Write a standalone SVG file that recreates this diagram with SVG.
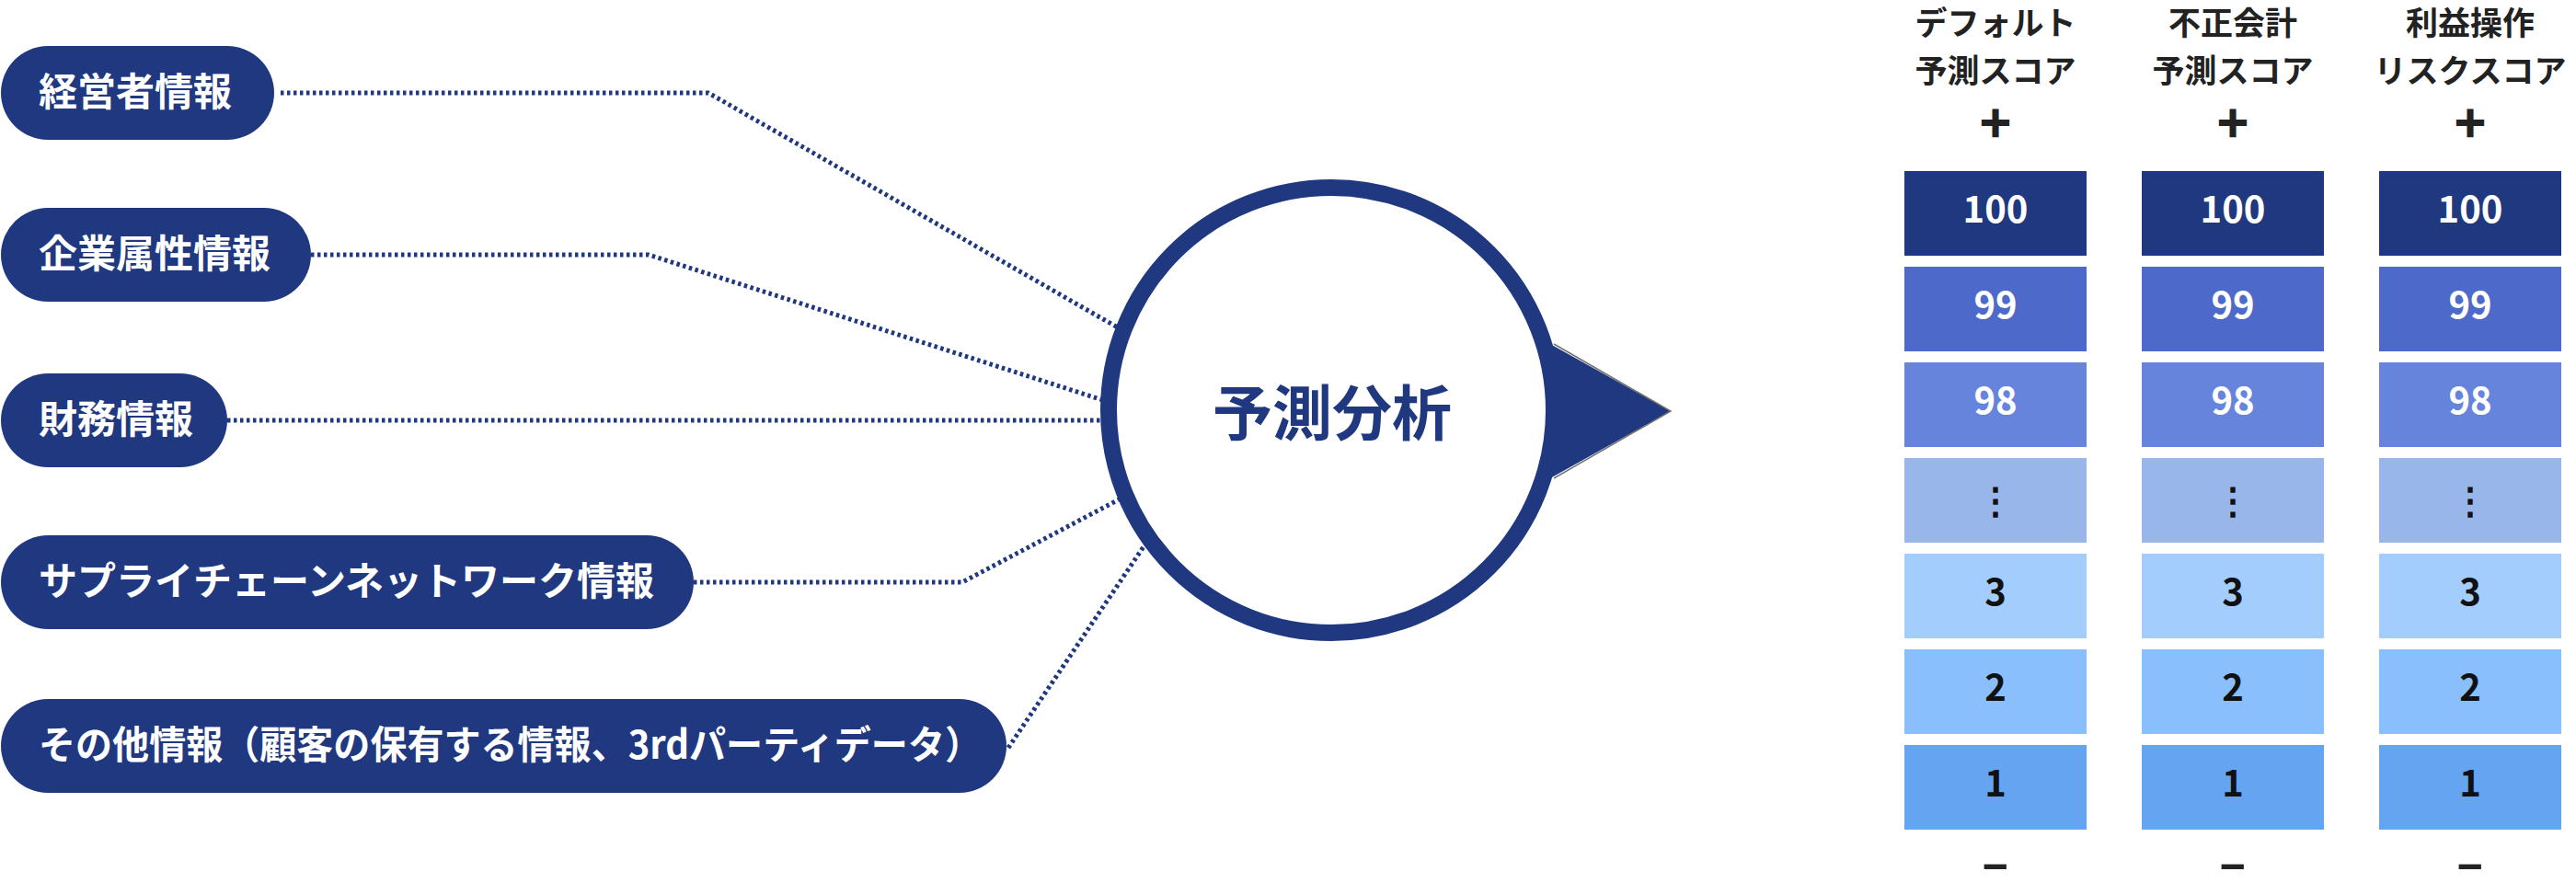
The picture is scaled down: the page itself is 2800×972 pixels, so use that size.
<svg xmlns="http://www.w3.org/2000/svg" width="2800" height="972" viewBox="0 0 2800 972">
<style>
.pill{fill:#203880}
.pt{font-family:"Noto Sans CJK JP","Noto Sans",sans-serif;font-weight:bold;font-size:42px;fill:#ffffff}
.conn{fill:none;stroke:#203880;stroke-width:5;stroke-dasharray:3.5 3.5}
.hd{font-family:"Noto Sans CJK JP","Noto Sans",sans-serif;font-weight:bold;font-size:35px;fill:#222222;text-anchor:middle}
.num{font-family:"Noto Sans CJK JP","Noto Sans",sans-serif;font-weight:bold;font-size:40px;text-anchor:middle}
.w{fill:#ffffff}
.k{fill:#111111}
.plus{font-family:"Noto Sans CJK JP",sans-serif;font-weight:900;font-size:40px;text-anchor:middle;fill:#222222;stroke:#222222;stroke-width:2.2}
.sign{font-family:"Noto Sans","Noto Sans CJK JP",sans-serif;font-weight:bold;text-anchor:middle;fill:#222222}
.b100{fill:#203880}.b99{fill:#4d6acb}.b98{fill:#6784dc}.bdot{fill:#98b6ea}.b3{fill:#a3cdfd}.b2{fill:#89bffd}.b1{fill:#64a4f1}
</style>
<rect width="2800" height="972" fill="#ffffff"/>
<g id="connectors">
<path class="conn" d="M305,101 H770 L1220,359"/>
<path class="conn" d="M338,277 H705 L1205,437"/>
<path class="conn" d="M247,457 H1205"/>
<path class="conn" d="M754,633 H1046 L1222,540"/>
<path class="conn" d="M1096,813 L1250,584"/>
</g>
<g id="node-keiei"><rect class="pill" x="1" y="50" width="297" height="102" rx="51" ry="51"/><text class="pt" x="42" y="115">経営者情報</text></g>
<g id="node-kigyo"><rect class="pill" x="1" y="226" width="337" height="102" rx="51" ry="51"/><text class="pt" x="42" y="291">企業属性情報</text></g>
<g id="node-zaimu"><rect class="pill" x="1" y="406" width="246" height="102" rx="51" ry="51"/><text class="pt" x="42" y="471">財務情報</text></g>
<g id="node-supply"><rect class="pill" x="1" y="582" width="753" height="102" rx="51" ry="51"/><text class="pt" x="42" y="647">サプライチェーンネットワーク情報</text></g>
<g id="node-other"><rect class="pill" x="1" y="760" width="1093" height="102" rx="51" ry="51"/><text class="pt" x="42" y="825" textLength="1025" lengthAdjust="spacingAndGlyphs">その他情報（顧客の保有する情報、3rdパーティデータ）</text></g>
<g id="node-analysis">
<circle cx="1447" cy="446" r="242" fill="#ffffff" stroke="#203880" stroke-width="18"/>
<polygon points="1685,374 1816,447 1685,520" fill="#203880"/>
<polyline points="1689,374 1816,447 1689,520" fill="none" stroke="#707070" stroke-width="1.5"/>
<text x="1448" y="473" font-family="Noto Sans CJK JP, sans-serif" font-weight="bold" font-size="65" fill="#203880" text-anchor="middle">予測分析</text>
</g>
<g id="col-default">
<text class="hd" x="2169" y="38">デフォルト</text>
<text class="hd" x="2169" y="90">予測スコア</text>
<text class="plus" x="2169" y="149">＋</text>
<rect class="b100" x="2070" y="186" width="198" height="92"/><text class="num w" x="2169" y="242">100</text>
<rect class="b99" x="2070" y="290" width="198" height="92"/><text class="num w" x="2169" y="346">99</text>
<rect class="b98" x="2070" y="394" width="198" height="92"/><text class="num w" x="2169" y="450">98</text>
<rect class="bdot" x="2070" y="498" width="198" height="92"/><text class="num k" x="2169" y="558">⋮</text>
<rect class="b3" x="2070" y="602" width="198" height="92"/><text class="num k" x="2169" y="658">3</text>
<rect class="b2" x="2070" y="706" width="198" height="92"/><text class="num k" x="2169" y="762">2</text>
<rect class="b1" x="2070" y="810" width="198" height="92"/><text class="num k" x="2169" y="866">1</text>
<text class="sign" x="2169" y="960" font-size="50">−</text>
</g>
<g id="col-fusei">
<text class="hd" x="2427" y="38">不正会計</text>
<text class="hd" x="2427" y="90">予測スコア</text>
<text class="plus" x="2427" y="149">＋</text>
<rect class="b100" x="2328" y="186" width="198" height="92"/><text class="num w" x="2427" y="242">100</text>
<rect class="b99" x="2328" y="290" width="198" height="92"/><text class="num w" x="2427" y="346">99</text>
<rect class="b98" x="2328" y="394" width="198" height="92"/><text class="num w" x="2427" y="450">98</text>
<rect class="bdot" x="2328" y="498" width="198" height="92"/><text class="num k" x="2427" y="558">⋮</text>
<rect class="b3" x="2328" y="602" width="198" height="92"/><text class="num k" x="2427" y="658">3</text>
<rect class="b2" x="2328" y="706" width="198" height="92"/><text class="num k" x="2427" y="762">2</text>
<rect class="b1" x="2328" y="810" width="198" height="92"/><text class="num k" x="2427" y="866">1</text>
<text class="sign" x="2427" y="960" font-size="50">−</text>
</g>
<g id="col-rieki">
<text class="hd" x="2685" y="38">利益操作</text>
<text class="hd" x="2685" y="90">リスクスコア</text>
<text class="plus" x="2685" y="149">＋</text>
<rect class="b100" x="2586" y="186" width="198" height="92"/><text class="num w" x="2685" y="242">100</text>
<rect class="b99" x="2586" y="290" width="198" height="92"/><text class="num w" x="2685" y="346">99</text>
<rect class="b98" x="2586" y="394" width="198" height="92"/><text class="num w" x="2685" y="450">98</text>
<rect class="bdot" x="2586" y="498" width="198" height="92"/><text class="num k" x="2685" y="558">⋮</text>
<rect class="b3" x="2586" y="602" width="198" height="92"/><text class="num k" x="2685" y="658">3</text>
<rect class="b2" x="2586" y="706" width="198" height="92"/><text class="num k" x="2685" y="762">2</text>
<rect class="b1" x="2586" y="810" width="198" height="92"/><text class="num k" x="2685" y="866">1</text>
<text class="sign" x="2685" y="960" font-size="50">−</text>
</g>
</svg>
